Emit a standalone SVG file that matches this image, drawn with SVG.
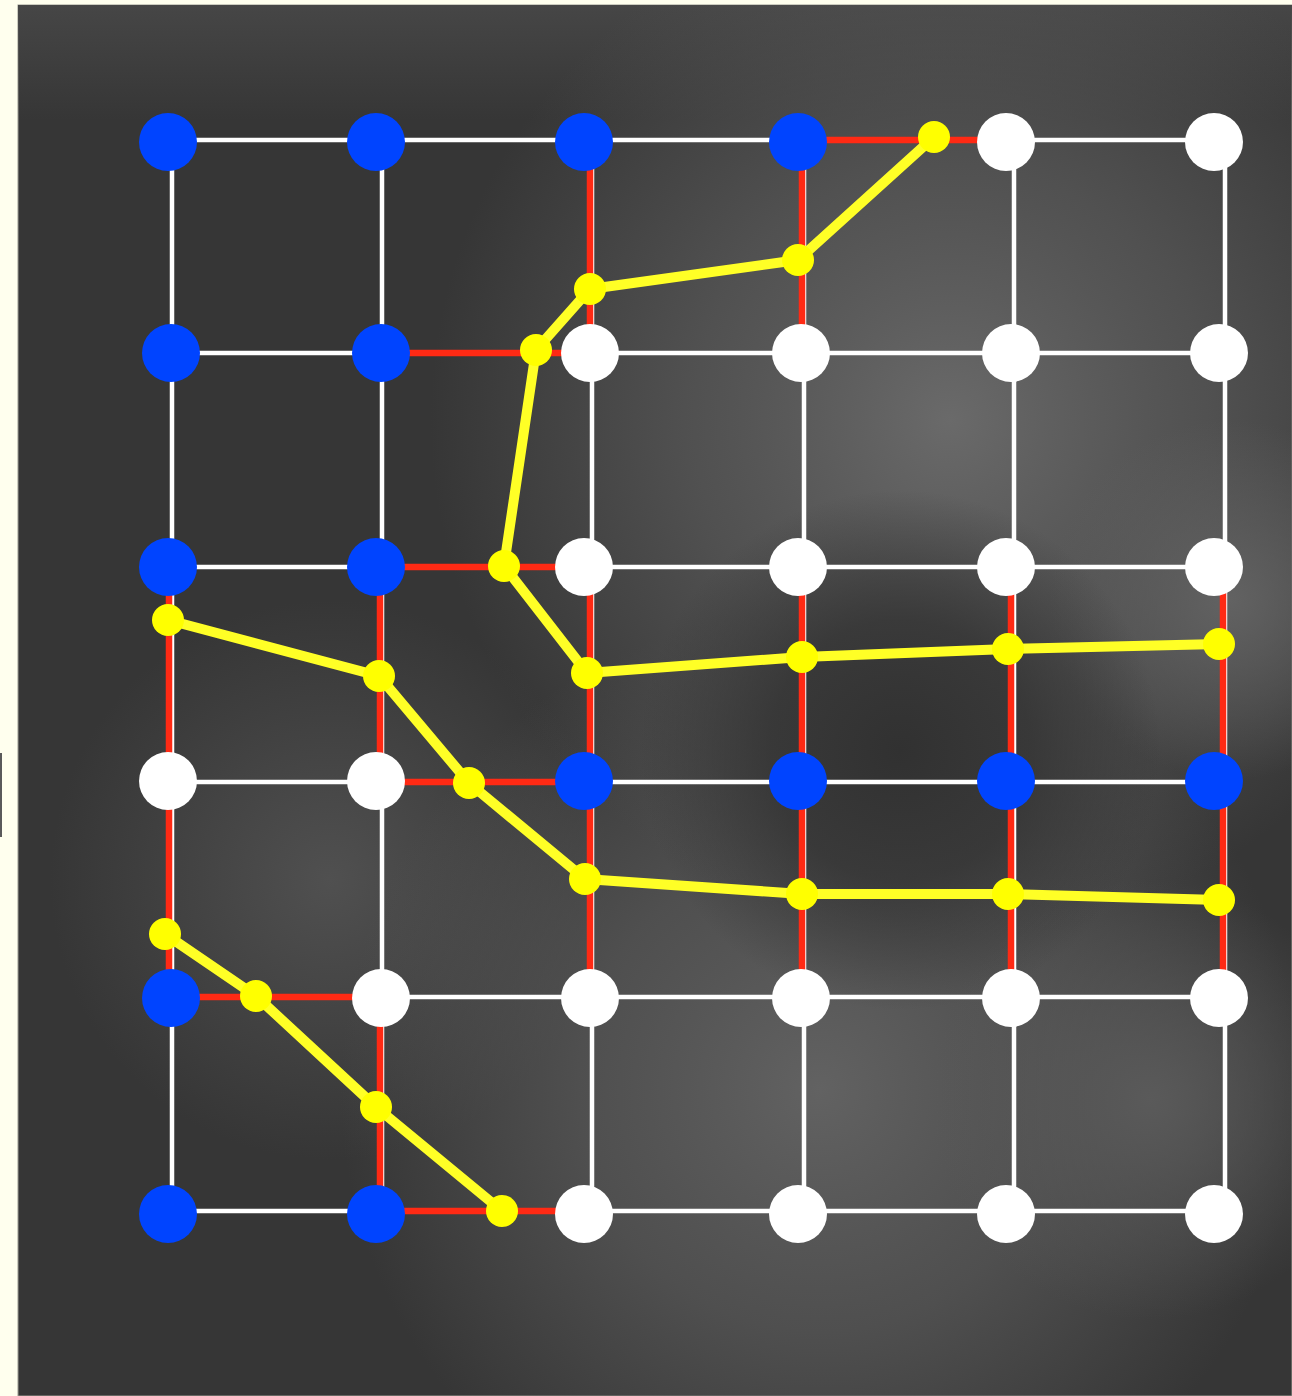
<svg xmlns="http://www.w3.org/2000/svg" width="1292" height="1396" viewBox="0 0 1292 1396">
<style>
.w{stroke:#ffffff;stroke-width:4.5;fill:none}
.r{stroke:#ff2a14;stroke-width:6.5;fill:none}
.y{stroke:#ffff26;stroke-width:10;fill:none;stroke-linejoin:round}
.yd{fill:#ffff00}
.nb{fill:#0044ff}
.nw{fill:#ffffff}
</style>
<defs>
<radialGradient id="g1" cx="950" cy="420" r="520" gradientUnits="userSpaceOnUse"><stop offset="0" stop-color="#6a6a6a"/><stop offset="0.5" stop-color="#5c5c5c" stop-opacity="0.7"/><stop offset="1" stop-color="#5c5c5c" stop-opacity="0"/></radialGradient>
<radialGradient id="g2" cx="820" cy="1090" r="480" gradientUnits="userSpaceOnUse"><stop offset="0" stop-color="#626262"/><stop offset="0.5" stop-color="#5a5a5a" stop-opacity="0.7"/><stop offset="1" stop-color="#5a5a5a" stop-opacity="0"/></radialGradient>
<radialGradient id="g3" cx="1230" cy="600" r="180" gradientUnits="userSpaceOnUse"><stop offset="0" stop-color="#626262"/><stop offset="1" stop-color="#626262" stop-opacity="0"/></radialGradient>
<radialGradient id="g4" cx="330" cy="880" r="280" gradientUnits="userSpaceOnUse"><stop offset="0" stop-color="#505050"/><stop offset="1" stop-color="#505050" stop-opacity="0"/></radialGradient>
<radialGradient id="g5" cx="900" cy="750" r="260" gradientUnits="userSpaceOnUse"><stop offset="0" stop-color="#313131"/><stop offset="0.5" stop-color="#333333" stop-opacity="0.8"/><stop offset="1" stop-color="#333333" stop-opacity="0"/></radialGradient>
<radialGradient id="g6" cx="1150" cy="1100" r="220" gradientUnits="userSpaceOnUse"><stop offset="0" stop-color="#5a5a5a"/><stop offset="1" stop-color="#5a5a5a" stop-opacity="0"/></radialGradient>
<linearGradient id="gt" x1="0" y1="5" x2="0" y2="120" gradientUnits="userSpaceOnUse"><stop offset="0" stop-color="#464646"/><stop offset="1" stop-color="#464646" stop-opacity="0"/></linearGradient>
</defs>
<rect x="0" y="0" width="1292" height="1396" fill="#ffffee"/>
<rect x="0" y="753" width="2" height="84" fill="#5a5a5a"/>
<g id="background">
<rect x="18" y="5" width="1274" height="1391" fill="#363636" stroke="#9a9a90" stroke-width="1"/>
<rect x="18" y="5" width="1274" height="1391" fill="url(#gt)"/>
<rect x="18" y="5" width="1274" height="1391" fill="url(#g4)"/>
<rect x="18" y="5" width="1274" height="1391" fill="url(#g2)"/>
<rect x="18" y="5" width="1274" height="1391" fill="url(#g6)"/>
<rect x="18" y="5" width="1274" height="1391" fill="url(#g1)"/>
<rect x="18" y="5" width="1274" height="1391" fill="url(#g3)"/>
<rect x="18" y="5" width="1274" height="1391" fill="url(#g5)"/>
</g>
<g id="connectors">
<g id="grid-white">
<path class="w" d="M172 140H1225M172 353H1225M172 567H1225M172 782H1225M172 997H1225M172 1211H1225"/>
<path class="w" d="M172 140V1211M382 140V1211M592 140V1211M804 140V1211M1014 140V1211M1225 140V1211"/>
</g>
<g id="edges-red">
<path class="r" d="M798 140H1006M381 353H590M376 567H584M376 782H584M171 997H381M376 1211H584"/>
<path class="r" d="M590 142V353M802 142V353"/>
<path class="r" d="M169 567V781M380 567V781M590 567V781M802 567V781M1011 567V781M1223 567V781"/>
<path class="r" d="M169 781V998M590 781V998M802 781V998M1011 781V998M1223 781V998"/>
<path class="r" d="M380 998V1214"/>
</g>
</g>
<g id="nodes">
<circle id="n00" class="nb" cx="168" cy="142" r="29"/>
<circle id="n01" class="nb" cx="376" cy="142" r="29"/>
<circle id="n02" class="nb" cx="584" cy="142" r="29"/>
<circle id="n03" class="nb" cx="798" cy="142" r="29"/>
<circle id="n04" class="nw" cx="1006" cy="142" r="29"/>
<circle id="n05" class="nw" cx="1214" cy="142" r="29"/>
<circle id="n10" class="nb" cx="171" cy="353" r="29"/>
<circle id="n11" class="nb" cx="381" cy="353" r="29"/>
<circle id="n12" class="nw" cx="590" cy="353" r="29"/>
<circle id="n13" class="nw" cx="801" cy="353" r="29"/>
<circle id="n14" class="nw" cx="1011" cy="353" r="29"/>
<circle id="n15" class="nw" cx="1219" cy="353" r="29"/>
<circle id="n20" class="nb" cx="168" cy="567" r="29"/>
<circle id="n21" class="nb" cx="376" cy="567" r="29"/>
<circle id="n22" class="nw" cx="584" cy="567" r="29"/>
<circle id="n23" class="nw" cx="798" cy="567" r="29"/>
<circle id="n24" class="nw" cx="1006" cy="567" r="29"/>
<circle id="n25" class="nw" cx="1214" cy="567" r="29"/>
<circle id="n30" class="nw" cx="168" cy="781" r="29"/>
<circle id="n31" class="nw" cx="376" cy="781" r="29"/>
<circle id="n32" class="nb" cx="584" cy="781" r="29"/>
<circle id="n33" class="nb" cx="798" cy="781" r="29"/>
<circle id="n34" class="nb" cx="1006" cy="781" r="29"/>
<circle id="n35" class="nb" cx="1214" cy="781" r="29"/>
<circle id="n40" class="nb" cx="171" cy="998" r="29"/>
<circle id="n41" class="nw" cx="381" cy="998" r="29"/>
<circle id="n42" class="nw" cx="590" cy="998" r="29"/>
<circle id="n43" class="nw" cx="801" cy="998" r="29"/>
<circle id="n44" class="nw" cx="1011" cy="998" r="29"/>
<circle id="n45" class="nw" cx="1219" cy="998" r="29"/>
<circle id="n50" class="nb" cx="168" cy="1214" r="29"/>
<circle id="n51" class="nb" cx="376" cy="1214" r="29"/>
<circle id="n52" class="nw" cx="584" cy="1214" r="29"/>
<circle id="n53" class="nw" cx="798" cy="1214" r="29"/>
<circle id="n54" class="nw" cx="1006" cy="1214" r="29"/>
<circle id="n55" class="nw" cx="1214" cy="1214" r="29"/>
</g>
<g id="contours">
<g id="contour1">
<polyline class="y" points="934,137 798,260 590,289 536,350 504,566 587,673 802,657 1008,649 1219,644"/>
<circle class="yd" cx="934" cy="137" r="16"/><circle class="yd" cx="798" cy="260" r="16"/><circle class="yd" cx="590" cy="289" r="16"/><circle class="yd" cx="536" cy="350" r="16"/><circle class="yd" cx="504" cy="566" r="16"/><circle class="yd" cx="587" cy="673" r="16"/><circle class="yd" cx="802" cy="657" r="16"/><circle class="yd" cx="1008" cy="649" r="16"/><circle class="yd" cx="1219" cy="644" r="16"/>
</g>
<g id="contour2">
<polyline class="y" points="168,620 379,676 469,783 585,879 802,894 1008,894 1219,900"/>
<circle class="yd" cx="168" cy="620" r="16"/><circle class="yd" cx="379" cy="676" r="16"/><circle class="yd" cx="469" cy="783" r="16"/><circle class="yd" cx="585" cy="879" r="16"/><circle class="yd" cx="802" cy="894" r="16"/><circle class="yd" cx="1008" cy="894" r="16"/><circle class="yd" cx="1219" cy="900" r="16"/>
</g>
<g id="contour3">
<polyline class="y" points="165,934 256,996 376,1107 502,1211"/>
<circle class="yd" cx="165" cy="934" r="16"/><circle class="yd" cx="256" cy="996" r="16"/><circle class="yd" cx="376" cy="1107" r="16"/><circle class="yd" cx="502" cy="1211" r="16"/>
</g>
</g>
</svg>
